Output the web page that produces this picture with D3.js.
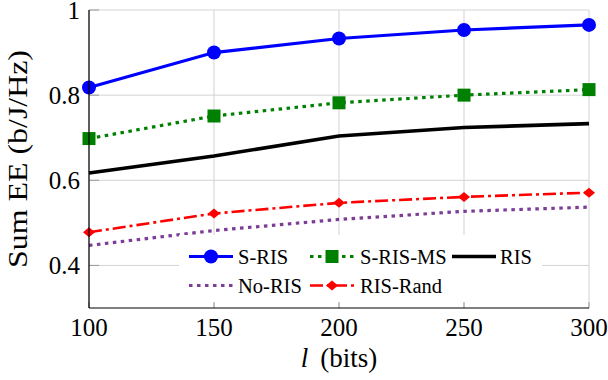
<!DOCTYPE html>
<html>
<head>
<meta charset="utf-8">
<script src="https://cdn.jsdelivr.net/npm/d3@7"></script>
<style>
  body { margin: 0; background: #fff; }
  svg { display: block; }
</style>
</head>
<body>
<div id="chart"></div>
<script>
// message length in bits (x axis)
const bits = [100, 150, 200, 250, 300];

// sum energy efficiency for each scheme (b/J/Hz)
const sRIS = [0.818, 0.900, 0.933, 0.953, 0.965];
const sRISMS = [0.698, 0.751, 0.782, 0.800, 0.813];
const ris = [0.617, 0.657, 0.704, 0.724, 0.733];
const noRIS = [0.447, 0.482, 0.508, 0.527, 0.537];
const risRand = [0.478, 0.522, 0.547, 0.561, 0.571];

const xTicks = [100, 150, 200, 250, 300];
const yTicks = [0.4, 0.6, 0.8, 1];

const width = 608;
const height = 380;
const margin = { top: 10, right: 19, bottom: 72, left: 89 };
const font = "Liberation Serif, DejaVu Serif, serif";

const series = [
  { name: "S-RIS", values: sRIS, color: "#0000ff", dash: null, marker: "circle", width: 3.2 },
  { name: "S-RIS-MS", values: sRISMS, color: "#008000", dash: "3.5,4.5", marker: "square", width: 3.2 },
  { name: "RIS", values: ris, color: "#000000", dash: null, marker: null, width: 3.6 },
  { name: "No-RIS", values: noRIS, color: "#7d3c98", dash: "3.5,4.5", marker: null, width: 3.2 },
  { name: "RIS-Rand", values: risRand, color: "#ff0000", dash: "13,4,3,4", marker: "diamond", width: 2.6 }
];

const svg = d3.select("#chart").append("svg")
  .attr("width", width)
  .attr("height", height)
  .attr("font-family", font);

const x = d3.scaleLinear()
  .domain([100, 300])
  .range([margin.left, width - margin.right]);

const y = d3.scaleLinear()
  .domain([0.3, 1])
  .range([height - margin.bottom, margin.top]);

// grid lines (also act as the top and right borders)
svg.append("g").selectAll("line")
  .data(xTicks)
  .join("line")
  .attr("x1", d => x(d)).attr("x2", d => x(d))
  .attr("y1", y(0.3)).attr("y2", y(1))
  .attr("stroke", "#d3d3d3")
  .attr("stroke-width", 1);

svg.append("g").selectAll("line")
  .data(yTicks)
  .join("line")
  .attr("x1", x(100)).attr("x2", x(300))
  .attr("y1", d => y(d)).attr("y2", d => y(d))
  .attr("stroke", "#d3d3d3")
  .attr("stroke-width", 1);

// draw the lines and markers
const line = d3.line()
  .x((d, i) => x(bits[i]))
  .y(d => y(d));

const drawMarker = (g, s, cx, cy) => {
  if (s.marker === "circle") {
    g.append("circle").attr("cx", cx).attr("cy", cy).attr("r", 7).attr("fill", s.color);
  } else if (s.marker === "square") {
    g.append("rect").attr("x", cx - 6.5).attr("y", cy - 6.5)
      .attr("width", 13).attr("height", 13).attr("fill", s.color);
  } else if (s.marker === "diamond") {
    g.append("path")
      .attr("d", `M${cx - 6},${cy}L${cx},${cy - 5}L${cx + 6},${cy}L${cx},${cy + 5}Z`)
      .attr("fill", s.color);
  }
};

const plot = svg.append("g");
series.forEach(s => {
  plot.append("path")
    .datum(s.values)
    .attr("d", line)
    .attr("fill", "none")
    .attr("stroke", s.color)
    .attr("stroke-width", s.width)
    .attr("stroke-dasharray", s.dash);
  s.values.forEach((v, i) => drawMarker(plot, s, x(bits[i]), y(v)));
});

// legend box (white fill hides the grid behind it)
const legend = svg.append("g");
legend.append("rect")
  .attr("x", 179).attr("y", 235)
  .attr("width", 363).attr("height", 68)
  .attr("fill", "#fff");

const legendPos = [
  { lx: 189, tx: 238, ly: 256.5 },
  { lx: 310, tx: 360, ly: 256.5 },
  { lx: 452, tx: 500, ly: 256.5 },
  { lx: 189, tx: 238, ly: 285.5 },
  { lx: 310, tx: 360, ly: 285.5 }
];

series.forEach((s, i) => {
  const p = legendPos[i];
  legend.append("line")
    .attr("x1", p.lx).attr("x2", p.lx + 44)
    .attr("y1", p.ly).attr("y2", p.ly)
    .attr("stroke", s.color)
    .attr("stroke-width", s.width)
    .attr("stroke-dasharray", s.dash);
  drawMarker(legend, s, p.lx + 22, p.ly);
  legend.append("text")
    .attr("x", p.tx)
    .attr("y", p.ly + 7)
    .attr("font-size", 20.5)
    .attr("fill", "#000")
    .text(s.name);
});

// axis lines on the left and bottom, with small inward ticks
const axes = svg.append("g");
axes.selectAll(".xt")
  .data(xTicks)
  .join("line")
  .attr("x1", d => x(d)).attr("x2", d => x(d))
  .attr("y1", y(0.3)).attr("y2", y(0.3) - 6)
  .attr("stroke", "#999");
axes.selectAll(".yt")
  .data(yTicks)
  .join("line")
  .attr("x1", x(100)).attr("x2", x(100) + 10)
  .attr("y1", d => y(d)).attr("y2", d => y(d))
  .attr("stroke", "#999");
axes.append("line")
  .attr("x1", x(100)).attr("x2", x(100))
  .attr("y1", y(0.3)).attr("y2", y(1))
  .attr("stroke", "#000").attr("stroke-width", 1.2);
axes.append("line")
  .attr("x1", x(100)).attr("x2", x(300))
  .attr("y1", y(0.3)).attr("y2", y(0.3))
  .attr("stroke", "#000").attr("stroke-width", 1.2);

// tick labels
svg.append("g").selectAll("text")
  .data(xTicks)
  .join("text")
  .attr("x", d => x(d))
  .attr("y", 336)
  .attr("text-anchor", "middle")
  .attr("font-size", 25)
  .text(d => d);

svg.append("g").selectAll("text")
  .data(yTicks)
  .join("text")
  .attr("x", 80)
  .attr("y", d => y(d) + 8.5)
  .attr("text-anchor", "end")
  .attr("font-size", 25)
  .text(d => d === 1 ? "1" : d.toFixed(1));

// axis titles
const xLabel = svg.append("text")
  .attr("x", 339)
  .attr("y", 367)
  .attr("text-anchor", "middle")
  .attr("font-size", 27);
xLabel.append("tspan").attr("font-style", "italic").text("l");
xLabel.append("tspan").text("\u2009 (bits)");

svg.append("text")
  .attr("transform", `translate(27, ${(y(0.3) + y(1)) / 2}) rotate(-90)`)
  .attr("text-anchor", "middle")
  .attr("textLength", 218)
  .attr("lengthAdjust", "spacingAndGlyphs")
  .attr("font-size", 27)
  .text("Sum EE (b/J/Hz)");
</script>
</body>
</html>
